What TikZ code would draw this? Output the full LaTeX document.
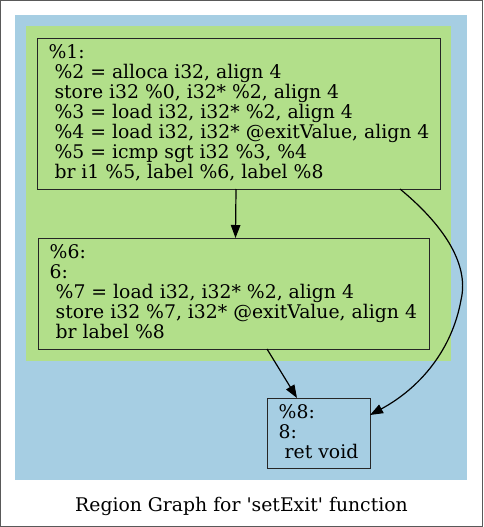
\documentclass[tikz,border=0pt]{standalone}
\usepackage{fontspec}
\setmainfont{DejaVu Serif}
\usetikzlibrary{arrows.meta}
\definecolor{cblue}{HTML}{A6CEE3}
\definecolor{cgreen}{HTML}{B2DF8A}
\tikzset{
  blockbox/.style={draw=black!85, line width=1.3pt, anchor=north west, inner sep=0pt},
  codetext/.style={anchor=north west, inner sep=0pt, align=left, font=\fontsize{18.8}{20}\selectfont},
  edge/.style={line width=1.2pt, -{Triangle[length=13pt,width=9.5pt]}},
}
\newcommand{\ind}{\hspace{6pt}}
\begin{document}
\begin{tikzpicture}[x=1pt,y=-1pt]
\useasboundingbox (0,0) rectangle (483,527);
\draw[draw=black!65, line width=1pt, fill=white] (0.5,0.5) rectangle (482.5,526.5);
\fill[cblue] (15,15) rectangle (467,480);
\fill[cgreen] (26,26) rectangle (451,361);
\node[blockbox, fill=cgreen, minimum width=403pt, minimum height=151pt] (n1) at (37,38) {};
\node[blockbox, fill=cgreen, minimum width=391pt, minimum height=111pt] (n6) at (38,238) {};
\node[blockbox, fill=cblue, minimum width=103pt, minimum height=70pt] (n8) at (267,398) {};
\node[codetext] (t1) at (48.3,44.5) {\%1:\\\ind\%2 = alloca i32, align 4\\\ind store i32 \%0, i32* \%2, align 4\\\ind\%3 = load i32, i32* \%2, align 4\\\ind\%4 = load i32, i32* @exitValue, align 4\\\ind\%5 = icmp sgt i32 \%3, \%4\\\ind br i1 \%5, label \%6, label \%8};
\node[codetext] (t6) at (49.5,244.5) {\%6:\\6:\\\ind\%7 = load i32, i32* \%2, align 4\\\ind store i32 \%7, i32* @exitValue, align 4\\\ind br label \%8};
\node[codetext] (t8) at (278.5,404.5) {\%8:\\8:\\\ind ret void};
\node[anchor=base, inner sep=0pt, font=\fontsize{18.8}{20}\selectfont] (cap) at (241.5,511.5) {Region Graph for \textquotesingle setExit\textquotesingle{} function};
\coordinate (a1) at (236,189);
\coordinate (a6) at (235.5,238);
\draw[edge] (a1) -- (a6);
\coordinate (b6) at (267,349);
\coordinate (b8) at (297,398);
\draw[edge] (b6) -- (b8);
\coordinate (c1) at (400,189);
\coordinate (cm) at (461,300);
\coordinate (c8) at (370,415);
\draw[edge] (c1) .. controls (440,222) and (470,262) .. (cm) .. controls (452,350) and (420,388) .. (c8);
\end{tikzpicture}
\end{document}
